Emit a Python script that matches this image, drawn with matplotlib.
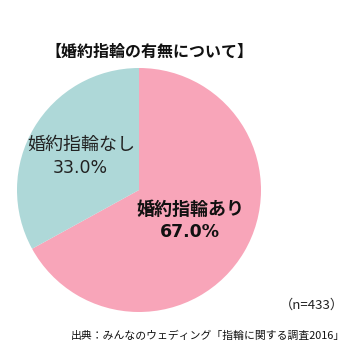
import matplotlib
matplotlib.use('Agg')
import matplotlib.pyplot as plt

plt.rcParams['font.family'] = ['Noto Sans CJK JP', 'DejaVu Sans']

# datos
labels = ['婚約指輪あり', '婚約指輪なし']
values = [67.0, 33.0]
colors = ['#F8A5B9', '#AED8D8']
title = '【婚約指輪の有無について】'
n_text = '（n=433）'
source = '出典：みんなのウェディング「指輪に関する調査2016」'

W, H = 362, 363
fig = plt.figure(figsize=(W / 100, H / 100), dpi=100)
ax = fig.add_axes([0, 0, 1, 1])

ax.pie(values, colors=colors, startangle=90, counterclock=False,
       center=(139, H - 190), radius=122, frame=True,
       wedgeprops=dict(linewidth=0))
ax.set_xlim(0, W)
ax.set_ylim(0, H)
ax.set_aspect('equal')
ax.axis('off')

ax.text(149, H - 52, title, ha='center', va='center', fontsize=11.5,
        fontweight='bold', color='#111111')

# etiquetas: nombre + porcentaje (cifras en DejaVu, mas anchas)
ax.text(81, H - 145, labels[1], ha='center', va='center', fontsize=13,
        color='#222222')
ax.text(80, H - 168, f'{values[1]:.1f}%', ha='center', va='center',
        fontsize=12.5, color='#222222', family='DejaVu Sans')
ax.text(190, H - 209, labels[0], ha='center', va='center', fontsize=13,
        fontweight='bold', color='#111111')
ax.text(190, H - 232, f'{values[0]:.1f}%', ha='center', va='center',
        fontsize=12.5, fontweight='bold', color='#111111',
        family='DejaVu Sans')

ax.text(344, H - 305, n_text, ha='right', va='center', fontsize=9.5,
        color='#222222')
ax.text(345, H - 336, source, ha='right', va='center', fontsize=7.8,
        color='#111111')

fig.savefig('out.png', dpi=100)
